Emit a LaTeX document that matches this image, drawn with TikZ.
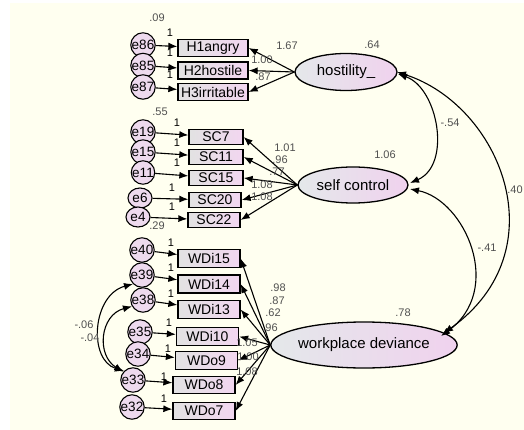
\documentclass[tikz,border=0pt]{standalone}
\usepackage{fontspec}
\setmainfont{Liberation Sans}
\usetikzlibrary{arrows.meta,shapes.geometric}
\definecolor{bg}{HTML}{FFFFF0}
\definecolor{pinkf}{HTML}{EEDAEE}
\definecolor{boxl}{HTML}{E2E2E2}
\definecolor{boxr}{HTML}{F2D6F0}
\definecolor{elll}{HTML}{E4E8EA}
\definecolor{ellr}{HTML}{F0D2EE}
\definecolor{numc}{HTML}{505050}
\begin{document}
\begin{tikzpicture}[x=1pt,y=-1pt,
 obs/.style={draw,line width=1.3pt,left color=boxl,right color=boxr,minimum height=17pt,inner sep=0pt,font=\fontsize{14}{14}\selectfont},
 err/.style={circle,draw,line width=1.1pt,fill=pinkf,minimum size=21pt,inner sep=0pt,font=\fontsize{13.5}{13.5}\selectfont},
 erre/.style={ellipse,draw,line width=1.1pt,fill=pinkf,minimum width=24pt,minimum height=20pt,inner sep=0pt,font=\fontsize{13.5}{13.5}\selectfont},
 lat/.style={ellipse,draw,line width=1.3pt,left color=elll,right color=ellr,inner sep=0pt,font=\fontsize{15}{15}\selectfont},
 arr/.style={-{Latex[length=9pt,width=7pt]},line width=1.1pt},
 cov/.style={{Latex[length=9pt,width=7pt]}-{Latex[length=9pt,width=7pt]},line width=1.1pt},
 num/.style={text=numc,font=\fontsize{11}{11}\selectfont,inner sep=0pt},
 one/.style={font=\fontsize{11}{11}\selectfont,inner sep=0pt}]
\useasboundingbox (0,0) rectangle (524,430);
\fill[white] (0,0) rectangle (524,430);
\fill[bg] (10,3) rectangle (524,430);

% latent variables
\node[lat,minimum width=102pt,minimum height=37pt] (hos) at (346,72) {hostility\_};
\node[lat,minimum width=110pt,minimum height=36pt] (sc) at (353,185) {self control};
\node[lat,minimum width=158pt,minimum height=46pt] (wd) at (364,345) {workplace deviance};

% hostility indicators
\node[obs,minimum width=70pt] (h1) at (213,48) {H1angry};
\node[obs,minimum width=70pt] (h2) at (213,70.5) {H2hostile};
\node[obs,minimum width=70pt] (h3) at (213,92) {H3irritable};
\node[err] (e86) at (143,45) {e86};
\node[err] (e85) at (143,65.5) {e85};
\node[err] (e87) at (143,87) {e87};

% self control indicators
\node[obs,minimum width=54pt,minimum height=15pt] (s7) at (216,137) {SC7};
\node[obs,minimum width=54pt,minimum height=15pt] (s11) at (216,157) {SC11};
\node[obs,minimum width=54pt,minimum height=15pt] (s15) at (216,178) {SC15};
\node[obs,minimum width=52pt,minimum height=15pt] (s20) at (215,200) {SC20};
\node[obs,minimum width=52pt,minimum height=15pt] (s22) at (214,220) {SC22};
\node[err] (e19) at (143,132) {e19};
\node[err] (e15) at (143,152) {e15};
\node[err] (e11) at (143,172.5) {e11};
\node[erre] (e6) at (140,198) {e6};
\node[erre] (e4) at (138,217) {e4};

% workplace deviance indicators
\node[obs,minimum width=62pt,minimum height=18pt] (w15) at (209,258.5) {WDi15};
\node[obs,minimum width=62pt,minimum height=18pt] (w14) at (209,284) {WDi14};
\node[obs,minimum width=62pt,minimum height=18pt] (w13) at (209,309.5) {WDi13};
\node[obs,minimum width=62pt,minimum height=18pt] (w10) at (207.5,336.5) {WDi10};
\node[obs,minimum width=62pt,minimum height=18pt] (w9) at (206.5,360.5) {WDo9};
\node[obs,minimum width=62pt,minimum height=17pt] (w8) at (204,385) {WDo8};
\node[obs,minimum width=62pt,minimum height=17pt] (w7) at (204,411) {WDo7};
\node[err,minimum size=22pt] (e40) at (142,250) {e40};
\node[err,minimum size=22pt] (e39) at (142,275) {e39};
\node[err,minimum size=22pt] (e38) at (143,300) {e38};
\node[err,minimum size=22pt] (e35) at (140,332) {e35};
\node[err,minimum size=22pt] (e34) at (138,354) {e34};
\node[err,minimum size=22pt] (e33) at (133,380) {e33};
\node[err,minimum size=22pt] (e32) at (132,407) {e32};

% error arrows
\foreach \e/\b in {e86/h1,e85/h2,e87/h3,e19/s7,e15/s11,e11/s15,e6/s20,e4/s22,e40/w15,e39/w14,e38/w13,e35/w10,e34/w9,e33/w8,e32/w7}
  \draw[arr] (\e) -- (\b);

% loadings
\foreach \b in {h1,h2,h3} \draw[arr] (hos.west) -- (\b.east);
\foreach \b in {s7,s11,s15,s20,s22} \draw[arr] (sc.west) -- (\b.east);
\foreach \b in {w15,w14,w13,w10,w9,w8,w7} \draw[arr] (wd.west) -- (\b.east);

% covariances right
\coordinate (hE) at (398,74);
\coordinate (hE2) at (397,72);
\coordinate (sE) at (410,183);
\coordinate (sE2) at (410,189);
\coordinate (wA) at (441,336);
\coordinate (wB) at (444,333);
\draw[cov] (hE) .. controls (438,88) and (452,165) .. (sE);
\draw[cov] (hE2) .. controls (500,105) and (560,250) .. (wB);
\draw[cov] (sE2) .. controls (465,200) and (505,290) .. (wA);

% covariances left
\draw[cov] (e39.south west) .. controls (92,295) and (88,360) .. (e33.north west);
\draw[cov] (e38.210) .. controls (100,315) and (96,355) .. (e33.140);

% variance labels
\node[num] at (157,18) {.09};
\node[num] at (160,112) {.55};
\node[num] at (157,226) {.29};
\node[num] at (372,45) {.64};
\node[num] at (385,155) {1.06};
\node[num] at (403,313) {.78};

% loading labels
\node[num] at (287,46) {1.67};
\node[num] at (262,60) {1.00};
\node[num] at (263,77) {.87};
\node[num] at (285,148) {1.01};
\node[num] at (280,160) {.96};
\node[num] at (277,172) {.77};
\node[num] at (262,185) {1.08};
\node[num] at (262,197) {1.08};
\node[num] at (278,288) {.98};
\node[num] at (277,301) {.87};
\node[num] at (273,313) {.62};
\node[num] at (270,328) {.96};
\node[num] at (247,343) {1.05};
\node[num] at (248,357) {1.00};
\node[num] at (247,372) {1.08};

% covariance labels
\node[num] at (450,123) {-.54};
\node[num] at (515,190) {.40};
\node[num] at (487,248) {-.41};
\node[num] at (84,325) {-.06};
\node[num] at (90,338) {-.04};

% regression weight 1 labels
\foreach \p in {(170,33),(170,53),(170,75),(177,123),(177,143),(177,163),(172,188),(172,207),(171,243),(171,268),(171,294),(169,323),(168,349),(164,377),(164,399)}
  \node[one] at \p {1};
\end{tikzpicture}
\end{document}
